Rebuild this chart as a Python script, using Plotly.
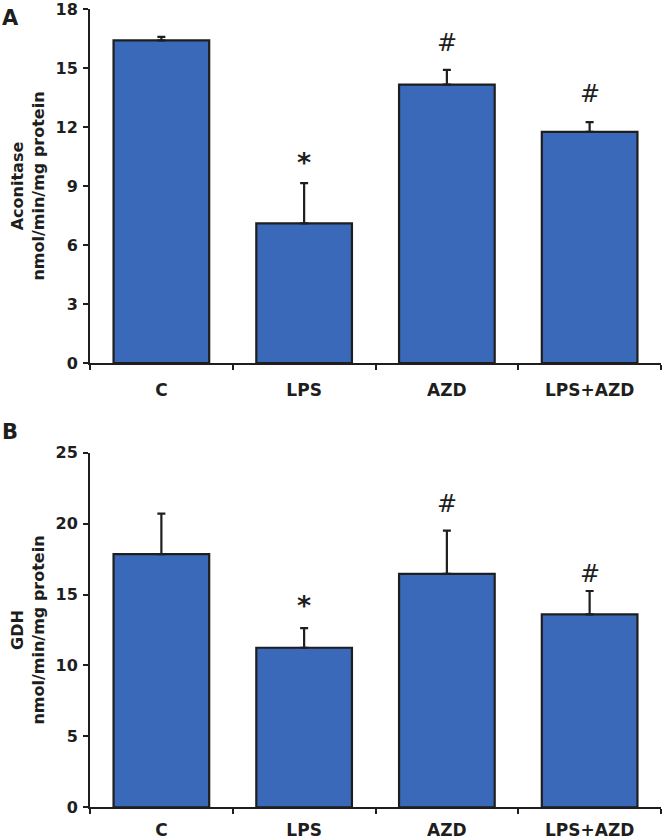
import plotly.graph_objects as go
from plotly.subplots import make_subplots

categories = ["C", "LPS", "AZD", "LPS+AZD"]

aconitase_mean = [16.4, 7.1, 14.15, 11.75]
aconitase_sem = [0.18, 2.05, 0.75, 0.5]
aconitase_marks = ["", "*", "#", "#"]

gdh_mean = [17.85, 11.25, 16.45, 13.6]
gdh_sem = [2.85, 1.38, 3.05, 1.65]
gdh_marks = ["", "*", "#", "#"]

aconitase_ticks = [0, 3, 6, 9, 12, 15, 18]
gdh_ticks = [0, 5, 10, 15, 20, 25]

BAR = "#3B69B9"
INK = "#1e1e1e"
FONT = "DejaVu Sans"

W, H = 665, 839
LEFT, RIGHT = 90, 4
PW = W - LEFT - RIGHT

fig = make_subplots(rows=2, cols=1, vertical_spacing=0.1)

for row, mean, sem in [(1, aconitase_mean, aconitase_sem), (2, gdh_mean, gdh_sem)]:
    fig.add_trace(go.Bar(
        x=categories, y=mean,
        marker=dict(color=BAR, line=dict(color=INK, width=2.2)),
        width=0.67,
        error_y=dict(type="data", symmetric=False, array=sem,
                     arrayminus=[0] * len(sem), color=INK,
                     thickness=2.2, width=4),
        showlegend=False,
    ), row=row, col=1)

axis_common = dict(showline=True, linecolor=INK, linewidth=2, ticks="outside",
                   tickcolor=INK, tickwidth=2, ticklen=5, showgrid=False,
                   zeroline=False, automargin=False, ticklabeloverflow="allow")

fig.update_xaxes(**axis_common, tickson="boundaries", range=[-0.5, 3.5],
                 tickfont=dict(family=FONT, size=17, color=INK, weight="bold"))
fig.update_xaxes(ticklabelstandoff=11, row=1, col=1)
fig.update_xaxes(ticklabelstandoff=6, row=2, col=1)

fig.update_yaxes(**axis_common, ticklabelstandoff=2,
                 tickfont=dict(family=FONT, size=16, color=INK, weight="bold"))

title_font = dict(family=FONT, size=16, color=INK, weight="bold")
fig.update_yaxes(range=[0, 18], tickvals=aconitase_ticks, row=1, col=1,
                 title=dict(text="Aconitase<br>nmol/min/mg protein",
                            font=title_font, standoff=7))
fig.update_yaxes(range=[0, 25], tickvals=gdh_ticks, row=2, col=1,
                 title=dict(text="GDH<br>nmol/min/mg protein",
                            font=title_font, standoff=7))

fig.update_layout(
    width=W, height=H,
    margin=dict(l=LEFT, r=RIGHT, t=0, b=0),
    plot_bgcolor="white", paper_bgcolor="white",
    yaxis=dict(domain=[1 - 363 / H, 1 - 9 / H]),
    yaxis2=dict(domain=[1 - 807.3 / H, 1 - 452.7 / H]),
)

# vertical offset (px) of each significance mark above its error bar
mark_shift = {("y", 1): 23, ("y", 2): 28, ("y", 3): 29,
              ("y2", 1): 25, ("y2", 2): 28, ("y2", 3): 18}

annotations = []
for yref, mean, sem, marks in [("y", aconitase_mean, aconitase_sem, aconitase_marks),
                               ("y2", gdh_mean, gdh_sem, gdh_marks)]:
    xref = "x" if yref == "y" else "x2"
    for i, (c, m, s, mk) in enumerate(zip(categories, mean, sem, marks)):
        if not mk:
            continue
        is_hash = mk == "#"
        annotations.append(dict(
            x=c, y=m + s, xref=xref, yref=yref, text=mk, showarrow=False,
            yanchor="middle",
            yshift=mark_shift[(yref, i)] - (1 if is_hash else 2),
            font=dict(family=FONT, size=24 if is_hash else 27, color=INK,
                      weight="normal" if is_hash else "bold"),
        ))

for letter, ypx in [("A", 18), ("B", 432)]:
    annotations.append(dict(x=-LEFT / PW, y=1 - ypx / H, xref="paper", yref="paper",
                            xanchor="left", yanchor="middle", text=f"<b>{letter}</b>",
                            showarrow=False, font=dict(family=FONT, size=21, color=INK)))

fig.update_layout(annotations=annotations)
fig.write_html("out.html",
               config={"displayModeBar": False},
               post_script="document.body.style.margin='0px';")
